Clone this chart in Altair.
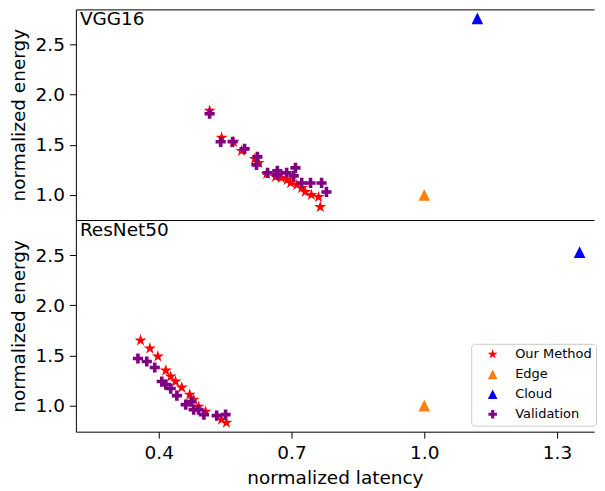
import altair as alt
import pandas as pd

series_names = ["Our Method", "Edge", "Cloud", "Validation"]
series_colors = ["#ff0000", "#ff7f0e", "#0000ff", "#800080"]

# VGG16 panel
vgg_our_x = [0.515, 0.542, 0.569, 0.587, 0.617, 0.626, 0.644, 0.664, 0.677, 0.690, 0.698, 0.712, 0.723, 0.731, 0.745, 0.761, 0.765]
vgg_our_y = [1.84, 1.57, 1.53, 1.44, 1.36, 1.32, 1.21, 1.18, 1.17, 1.15, 1.12, 1.10, 1.07, 1.03, 1.00, 0.98, 0.88]
vgg_edge_x = [1.0]
vgg_edge_y = [1.0]
vgg_cloud_x = [1.12]
vgg_cloud_y = [2.76]
vgg_val_x = [0.515, 0.540, 0.567, 0.594, 0.623, 0.621, 0.646, 0.668, 0.668, 0.689, 0.709, 0.705, 0.723, 0.743, 0.768, 0.779]
vgg_val_y = [1.81, 1.53, 1.53, 1.46, 1.38, 1.30, 1.22, 1.24, 1.20, 1.22, 1.27, 1.19, 1.12, 1.12, 1.12, 1.03]

# ResNet50 panel
res_our_x = [0.359, 0.380, 0.398, 0.416, 0.427, 0.438, 0.452, 0.470, 0.479, 0.490, 0.506, 0.542, 0.553]
res_our_y = [1.65, 1.57, 1.49, 1.35, 1.29, 1.24, 1.18, 1.11, 1.06, 0.99, 0.94, 0.86, 0.83]
res_edge_x = [1.0]
res_edge_y = [1.0]
res_cloud_x = [1.351]
res_cloud_y = [2.53]
res_val_x = [0.353, 0.373, 0.391, 0.407, 0.416, 0.427, 0.441, 0.461, 0.474, 0.479, 0.490, 0.502, 0.531, 0.551]
res_val_y = [1.47, 1.44, 1.38, 1.24, 1.21, 1.17, 1.10, 1.01, 1.04, 0.96, 0.96, 0.91, 0.90, 0.91]

x_ticks = [0.4, 0.7, 1.0, 1.3]
y_ticks = [1.0, 1.5, 2.0, 2.5]

STAR = ("M0,-1.05L0.236,-0.324L0.999,-0.324L0.381,0.124L0.617,0.849L0,0.401L-0.617,0.849"
        "L-0.381,0.124L-0.999,-0.324L-0.236,-0.324Z")
TRI = "M0,-0.97L0.97,0.97L-0.97,0.97Z"
PLUS = ("M-0.3,-0.85L0.3,-0.85L0.3,-0.3L0.85,-0.3L0.85,0.3L0.3,0.3L0.3,0.85"
        "L-0.3,0.85L-0.3,0.3L-0.85,0.3L-0.85,-0.3L-0.3,-0.3Z")
shape_paths = [STAR, TRI, TRI, PLUS]


def make_df(groups):
    rows = []
    for name, xs, ys in groups:
        for x, y in zip(xs, ys):
            rows.append({"series": name, "latency": x, "energy": y})
    return pd.DataFrame(rows)


vgg_df = make_df([
    ("Our Method", vgg_our_x, vgg_our_y),
    ("Edge", vgg_edge_x, vgg_edge_y),
    ("Cloud", vgg_cloud_x, vgg_cloud_y),
    ("Validation", vgg_val_x, vgg_val_y),
])
res_df = make_df([
    ("Our Method", res_our_x, res_our_y),
    ("Edge", res_edge_x, res_edge_y),
    ("Cloud", res_cloud_x, res_cloud_y),
    ("Validation", res_val_x, res_val_y),
])

FONT = "DejaVu Sans"
W = 519
X_DOM = [0.2128, 0.2128 + W / 443.3]
xscale = alt.Scale(domain=X_DOM, nice=False, zero=False)


def panel(name, df, ydom, height, is_bottom):
    if is_bottom:
        leg = alt.Legend(
            title=None, orient="none", legendX=396, legendY=124,
            strokeColor="#cccccc", fillColor="white", cornerRadius=3,
            padding=4, labelFontSize=13, labelFont=FONT, labelColor="black",
            rowPadding=6, symbolOffset=11, labelOffset=16,
        )
        xaxis = alt.Axis(values=x_ticks, format=".1f", title="normalized latency",
                         grid=False, orient="bottom")
    else:
        leg = None
        xaxis = alt.Axis(orient="bottom", ticks=False, labels=False, title=None, grid=False)
    yscale = alt.Scale(domain=ydom, nice=False, zero=False)
    pts = alt.Chart(df).mark_point(filled=True, opacity=1, strokeWidth=0, size=144).encode(
        x=alt.X("latency:Q", scale=xscale, axis=xaxis),
        y=alt.Y("energy:Q", scale=yscale,
                axis=alt.Axis(values=y_ticks, format=".1f", title="normalized energy", grid=False)),
        color=alt.Color("series:N", scale=alt.Scale(domain=series_names, range=series_colors), legend=leg),
        shape=alt.Shape("series:N", scale=alt.Scale(domain=series_names, range=shape_paths), legend=leg),
    )
    lbl = alt.Chart(pd.DataFrame({"label": [name]})).mark_text(
        align="left", baseline="top", font=FONT, fontSize=18.5, color="black"
    ).encode(x=alt.value(4), y=alt.value(1), text="label:N")
    layers = [pts]
    if not is_bottom:
        frame_top = alt.Chart(df).mark_point(opacity=0).encode(
            x=alt.X("latency:Q", scale=xscale,
                    axis=alt.Axis(orient="top", ticks=False, labels=False, title=None, grid=False)),
        )
        layers.append(frame_top)
    layers.append(lbl)
    ch = alt.layer(*layers).properties(width=W, height=height)
    if not is_bottom:
        ch = ch.resolve_axis(x="independent")
    return ch


top = panel("VGG16", vgg_df, [0.75, 2.85], 211, False)
bottom = panel("ResNet50", res_df, [0.74, 2.85], 212, True)

chart = alt.vconcat(top, bottom, spacing=0).resolve_scale(
    color="independent", shape="independent"
).resolve_legend(
    color="independent", shape="independent"
).properties(
    padding={"left": 1, "top": 1, "right": 0, "bottom": 0},
    background="white",
).configure_view(
    stroke=None
).configure_axis(
    labelFont=FONT, titleFont=FONT, labelFontSize=18.5, titleFontSize=18.5,
    titleFontWeight="normal", labelColor="black", titleColor="black",
    tickColor="black", tickSize=6.5, tickWidth=1, domain=True,
    domainColor="black", domainWidth=1,
    labelPadding=5, titlePadding=7,
)

chart.save("out.html", embed_options={"renderer": "svg", "actions": False})
